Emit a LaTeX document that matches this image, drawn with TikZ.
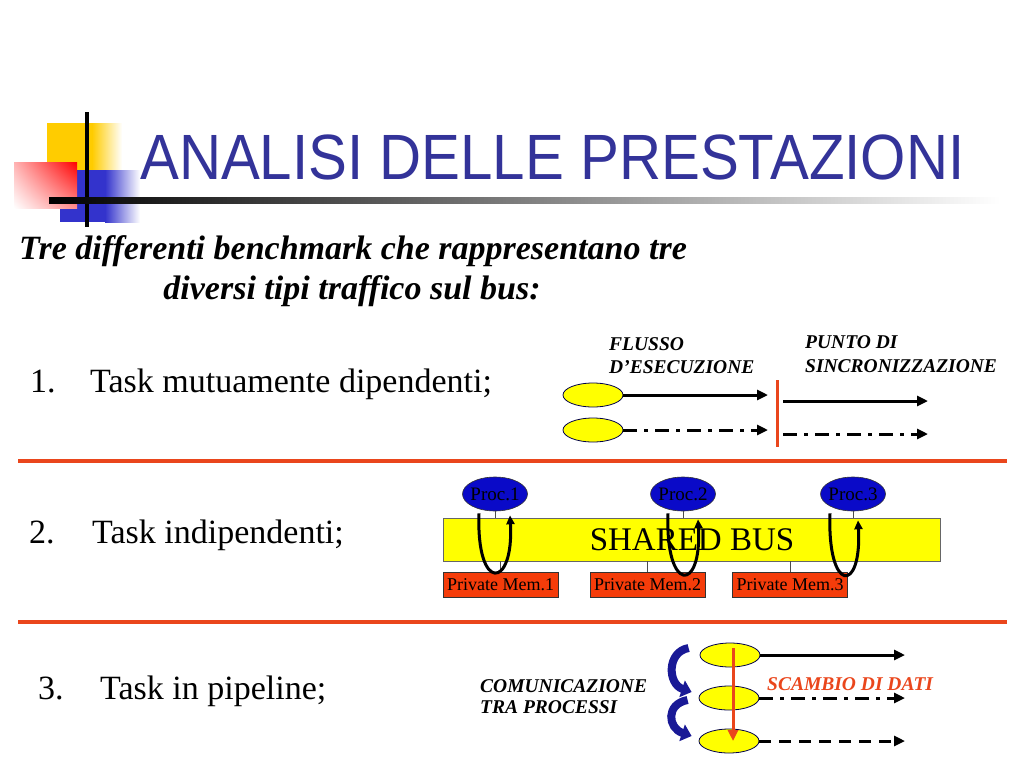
\documentclass[tikz,border=0pt]{standalone}
\usepackage{fontspec}
\setmainfont{Liberation Serif}
\newfontfamily\titlefont[FakeStretch=0.91]{Liberation Sans}
\usetikzlibrary{shapes.geometric,arrows.meta,shadings}
\newcommand{\fsz}[1]{\fontsize{#1}{#1}\selectfont}

\definecolor{titleblue}{RGB}{51,51,153}
\definecolor{logoyellow}{RGB}{255,204,0}
\definecolor{logoblue}{RGB}{51,51,204}
\definecolor{sepred}{RGB}{234,70,28}
\definecolor{procblue}{RGB}{10,10,200}
\definecolor{memred}{RGB}{245,60,10}
\definecolor{busyellow}{RGB}{255,255,0}
\definecolor{commblue}{RGB}{25,25,150}

\begin{document}
\begin{tikzpicture}[x=1pt,y=-1pt,
    txt/.style={inner sep=0pt,anchor=base west},
    label14/.style={txt,font=\bfseries\itshape\fsz{19.5}},
    task/.style={ellipse,draw=black!70!blue,line width=0.8pt,fill=busyellow,
      minimum width=60pt,minimum height=24pt,inner sep=0pt},
    proc/.style={ellipse,draw=black!80,line width=0.6pt,fill=procblue,
      text=black,minimum width=65pt,minimum height=34pt,
      inner sep=0pt,font=\fsz{19}},
    mem/.style={draw=black!80,line width=0.6pt,fill=memred,text=black,
      minimum width=115pt,minimum height=25pt,inner sep=0pt,font=\fsz{18}},
    flow/.style={line width=3pt,-{Triangle[length=11pt,width=10pt]}},
    dashdot/.style={flow,dash pattern=on 14pt off 7pt on 4pt off 7pt},
    dashflow/.style={flow,dash pattern=on 12pt off 8pt},
    backarrow/.style={line width=3pt,-{Triangle[length=9pt,width=8pt]}},
    stub/.style={line width=0.6pt,black!70}]
  \useasboundingbox (0,0) rectangle (1024,768);
  \fill[white] (0,0) rectangle (1024,768);

  % logo
  \fill[logoyellow] (47,123) rectangle (92,170);
  \shade[left color=logoyellow,right color=white] (92,123) rectangle (122,170);
  \fill[logoblue] (60,170) rectangle (105,222);
  \shade[left color=logoblue,right color=white] (105,170) rectangle (140,222);
  \shade[upper left=red!30,upper right=red,lower left=white,lower right=red!45]
    (14,208) rectangle (77,162);
  \draw[line width=4pt] (87,112) -- (87,227);
  \shade[left color=black,right color=white] (49,197) rectangle (1000,203);

  % title and subtitle
  \node[txt,text=titleblue,font=\titlefont\fsz{64}] (title) at (140,179)
    {ANALISI DELLE PRESTAZIONI};
  \node[inner sep=0pt,anchor=base,font=\bfseries\itshape\fsz{34}] (sub1)
    at (353,259) {Tre differenti benchmark che rappresentano tre};
  \node[inner sep=0pt,anchor=base,font=\bfseries\itshape\fsz{34}] (sub2)
    at (352,299) {diversi tipi traffico sul bus:};

  % list
  \node[txt,font=\fsz{34}] (n1) at (30,392) {1.};
  \node[txt,font=\fsz{34}] (t1) at (90,392) {Task mutuamente dipendenti;};
  \node[txt,font=\fsz{34}] (n2) at (29,543) {2.};
  \node[txt,font=\fsz{34}] (t2) at (92,543) {Task indipendenti;};
  \node[txt,font=\fsz{34}] (n3) at (38,699) {3.};
  \node[txt,font=\fsz{34}] (t3) at (100,699) {Task in pipeline;};

  \foreach \y in {461,622}
    \draw[sepred,line width=4.5pt] (18,\y) -- (1007,\y);

  % 1. dependent tasks
  \node[label14] (flow1) at (609,350) {FLUSSO};
  \node[label14] (flow2) at (609,373) {D’ESECUZIONE};
  \node[label14] (sync1) at (805,348) {PUNTO DI};
  \node[label14] (sync2) at (805,372) {SINCRONIZZAZIONE};
  \node[task] (e1) at (593,395) {};
  \node[task] (e2) at (593,430) {};
  \coordinate (a1) at (768,395);
  \coordinate (a2) at (768,430);
  \coordinate (b1) at (783,401);
  \coordinate (b2) at (928,401);
  \coordinate (c1) at (783,434);
  \coordinate (c2) at (928,434);
  \draw[flow] (e1.east) -- (a1);
  \draw[dashdot] (e2.east) -- (a2);
  \draw[sepred,line width=3pt] (777,380) -- (777,447);
  \draw[flow] (b1) -- (b2);
  \draw[dashdot] (c1) -- (c2);

  % 2. independent tasks
  \node[draw=black!60,line width=0.6pt,fill=busyellow,minimum width=497pt,
    minimum height=43pt,inner sep=0pt,font=\fsz{33}] (bus) at (692,539.5)
    {SHARED BUS};
  \node[proc] (p1) at (495,494) {\makebox[0pt]{Proc.1}};
  \node[proc] (p2) at (683,494) {\makebox[0pt]{Proc.2}};
  \node[proc] (p3) at (853,494) {\makebox[0pt]{Proc.3}};
  \node[mem] (m1) at (500.5,584.5) {Private Mem.1};
  \node[mem] (m2) at (647.5,584.5) {Private Mem.2};
  \node[mem] (m3) at (790,584.5) {Private Mem.3};
  \foreach \i in {1,2,3} {
    \draw[stub] (p\i.south) -- (p\i.south |- bus.north);
    \draw[stub] (m\i.north) -- (m\i.north |- bus.south);
  }
  \foreach \i/\l/\r/\d in {1/-16/15/-4, 2/-15/15/-8, 3/-23/5/-9}
    \draw[backarrow] ([xshift=\l pt,yshift=-2pt]p\i.south)
      .. controls +(-3,80) and +(4,74) .. ([xshift=\r pt,yshift=\d pt]p\i.south);

  % 3. pipeline
  \node[label14] (comm1) at (480,692) {COMUNICAZIONE};
  \node[label14] (comm2) at (480,713) {TRA PROCESSI};
  \node[label14,text=sepred] (xchg) at (767,690) {SCAMBIO DI DATI};
  \node[task] (s1) at (730,655) {};
  \node[task] (s2) at (729,698) {};
  \node[task] (s3) at (729,741) {};
  \coordinate (d1) at (905,655);
  \coordinate (d2) at (905,698);
  \coordinate (d3) at (905,741);
  \draw[flow] (s1.east) -- (d1);
  \draw[dashdot] (s2.east) -- (d2);
  \draw[dashflow] (s3.east) -- (d3);
  \draw[sepred,line width=3pt,-{Triangle[length=11pt,width=10pt]}]
    ([xshift=3pt,yshift=7pt]s1.center) -- ([xshift=4pt]s3.center);
  \draw[commblue,line width=8pt,-{Triangle[length=10pt,width=17pt]}]
    ([xshift=-11pt,yshift=7pt]s1.west) .. controls +(-22,4) and +(-24,-8) ..
    ([xshift=-7pt,yshift=6pt]s2.west);
  \draw[commblue,line width=8pt,-{Triangle[length=10pt,width=17pt]}]
    ([xshift=-11pt,yshift=-2pt]s2.west) .. controls +(-22,4) and +(-24,-8) ..
    ([xshift=-7pt,yshift=5pt]s3.west);
\end{tikzpicture}
\end{document}
